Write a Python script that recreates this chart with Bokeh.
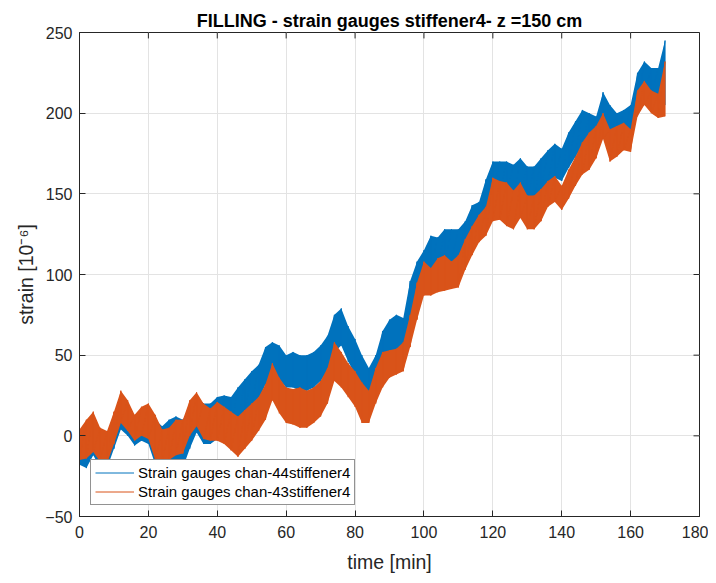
import numpy as np
from bokeh.plotting import figure
from bokeh.models import Range1d, Legend, LegendItem, FixedTicker
from bokeh.embed import file_html
from bokeh.resources import INLINE

# time samples [min]
time_min = list(range(0, 171, 2))

# chan-43 (orange) envelope
ch43_hi = [4, 10, 15, 5, 3, 15, 28, 22, 13, 18, 20, 13, 4, 5, 10, 10, 22, 27, 20, 17,
           21, 18, 15, 12, 16, 20, 24, 32, 45, 36, 30, 29, 30, 28, 30, 34, 42, 58, 52, 45,
           40, 33, 28, 42, 52, 53, 54, 58, 75, 95, 108, 104, 110, 112, 108, 112, 122, 130, 137, 142,
           160, 158, 157, 152, 157, 149, 149, 153, 158, 161, 155, 165, 173, 182, 188, 192, 200, 190, 192, 194,
           190, 214, 220, 214, 212, 232]
ch43_lo = [-15, -14, -10, -16, -17, -5, 8, 3, -3, 0, -2, -15, -16, -15, -12, -11, 0, 6, -2, -3,
           -3, -5, -9, -13, -8, -3, 3, 10, 22, 14, 8, 7, 5, 5, 8, 12, 20, 34, 30, 24,
           18, 8, 8, 20, 30, 36, 38, 40, 55, 72, 87, 87, 89, 90, 91, 92, 103, 112, 120, 124,
           133, 134, 130, 128, 135, 128, 128, 133, 142, 145, 140, 147, 155, 162, 165, 172, 184, 170, 173, 177,
           176, 198, 205, 200, 197, 198]

# chan-44 (blue) envelope
ch44_hi = [3, 5, 12, 4, 0, 12, 25, 20, 12, 17, 18, 10, 6, 10, 12, 10, 18, 25, 20, 20,
           24, 25, 24, 30, 35, 40, 44, 55, 58, 56, 50, 52, 50, 50, 52, 56, 62, 75, 79, 68,
           60, 50, 42, 50, 65, 72, 75, 73, 96, 108, 115, 124, 123, 128, 128, 128, 133, 143, 145, 159,
           170, 170, 170, 168, 172, 167, 167, 172, 177, 181, 178, 188, 195, 202, 200, 198, 213, 205, 200, 202,
           205, 225, 232, 228, 228, 245]
ch44_lo = [-18, -20, -12, -20, -20, -8, 4, 0, -6, -3, -5, -18, -20, -18, -15, -20, -8, 2, -5, -5,
           -2, 0, 2, 8, 14, 18, 22, 32, 37, 35, 30, 30, 28, 28, 30, 34, 40, 52, 56, 46,
           38, 30, 24, 30, 42, 50, 52, 52, 72, 85, 92, 102, 102, 106, 108, 108, 112, 122, 124, 136,
           148, 150, 150, 148, 150, 147, 147, 152, 157, 160, 158, 166, 173, 180, 178, 180, 190, 185, 180, 183,
           185, 205, 212, 210, 210, 205]

x_ticks = list(range(0, 181, 20))
y_ticks = list(range(-50, 251, 50))

BLUE = "#0072BD"
ORANGE = "#D95319"
DARK = "#262626"
FONT = "Liberation Sans"

X0, X1, Y0, Y1 = 0, 180, -50, 250
FRAME_W, FRAME_H = 620, 488
TICK_PX = 6


def zigzag(t, hi, lo):
    xs, ys = [], []
    for ti, h, l in zip(t, hi, lo):
        xs += [ti, ti]
        ys += [h, l]
    return xs, ys


p = figure(width=708, height=575, output_backend="svg", toolbar_location=None,
           x_range=Range1d(X0, X1), y_range=Range1d(Y0, Y1),
           min_border_left=79, min_border_right=9, min_border_top=32, min_border_bottom=55)

p.title.text = "FILLING - strain gauges stiffener4- z =150 cm"
p.title.text_font = FONT
p.title.text_font_size = "18px"
p.title.text_font_style = "bold"
p.title.align = "center"
p.title.text_color = "black"
p.title.standoff = 3

p.outline_line_color = DARK
p.outline_line_width = 1
p.background_fill_color = "white"
p.border_fill_color = "white"

for g in (p.xgrid, p.ygrid):
    g.grid_line_color = "#e3e3e3"
    g.grid_line_width = 1
p.xgrid.ticker = FixedTicker(ticks=x_ticks)
p.ygrid.ticker = FixedTicker(ticks=y_ticks)

for ax, ticks in ((p.xaxis[0], x_ticks), (p.yaxis[0], y_ticks)):
    ax.ticker = FixedTicker(ticks=ticks)
    ax.major_tick_in = TICK_PX
    ax.major_tick_out = 0
    ax.minor_tick_line_color = None
    ax.axis_line_color = DARK
    ax.major_tick_line_color = DARK
    ax.major_label_text_font = FONT
    ax.major_label_text_font_size = "16px"
    ax.major_label_text_color = DARK
    ax.axis_label_text_font = FONT
    ax.axis_label_text_font_size = "19.5px"
    ax.axis_label_text_font_style = "normal"
    ax.axis_label_text_color = DARK

p.xaxis[0].axis_label = "time [min]"
p.yaxis[0].axis_label = "strain [10\u207b\u2076]"
p.xaxis[0].major_label_standoff = 9
p.yaxis[0].major_label_standoff = 7
p.xaxis[0].axis_label_standoff = 10
p.yaxis[0].axis_label_standoff = 5

# box ticks on the top and right edges (MATLAB style, pointing inward)
dx = (X1 - X0) / FRAME_W * TICK_PX
dy = (Y1 - Y0) / FRAME_H * TICK_PX
p.segment(x0=x_ticks, y0=[Y1] * len(x_ticks), x1=x_ticks, y1=[Y1 - dy] * len(x_ticks),
          line_color=DARK, line_width=1)
p.segment(x0=[X1] * len(y_ticks), y0=y_ticks, x1=[X1 - dx] * len(y_ticks), y1=y_ticks,
          line_color=DARK, line_width=1)

# chan-44 (blue)
p.varea(x=time_min, y1=ch44_lo, y2=ch44_hi, fill_color=BLUE, fill_alpha=1.0)
bx, by = zigzag(time_min, ch44_hi, ch44_lo)
r44 = p.line(bx, by, line_color=BLUE, line_width=1)

# chan-43 (orange)
p.varea(x=time_min, y1=ch43_lo, y2=ch43_hi, fill_color=ORANGE, fill_alpha=1.0)
ox, oy = zigzag(time_min, ch43_hi, ch43_lo)
r43 = p.line(ox, oy, line_color=ORANGE, line_width=1)

legend = Legend(items=[LegendItem(label="Strain gauges chan-44stiffener4", renderers=[r44]),
                       LegendItem(label="Strain gauges chan-43stiffener4", renderers=[r43])],
                location="bottom_left")
legend.label_text_font = FONT
legend.label_text_font_size = "15px"
legend.label_text_color = "black"
legend.border_line_color = DARK
legend.border_line_width = 1
legend.background_fill_alpha = 1.0
legend.glyph_width = 39
legend.glyph_height = 17
legend.label_height = 17
legend.label_standoff = 4
legend.spacing = 2
legend.padding = 4
legend.margin = 11
legend.label_text_baseline = "middle"
p.add_layout(legend, "center")

open("out.html", "w").write(file_html(p, INLINE))
